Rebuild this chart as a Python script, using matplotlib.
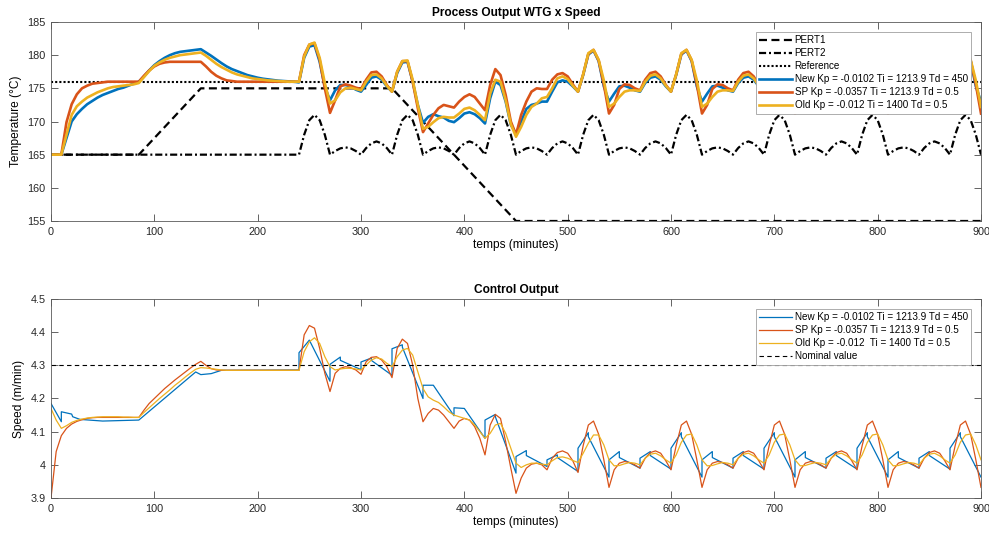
import numpy as np
import matplotlib
matplotlib.use('Agg')
import matplotlib.pyplot as plt

plt.rcParams['font.family'] = ['Liberation Sans', 'DejaVu Sans']

#Data
#--------------------------------
#time grid (minutes), one sample every 5 minutes
t = np.arange(0, 901, 5)

#disturbances and reference (top plot)
pert1_t = [0, 85, 145, 330, 450, 900]
pert1 = [165, 165, 175, 175, 155, 155]

pert2_t = np.r_[0, np.arange(240, 901, 5)]
pert2 = [165.0,
         165.0, 168.0, 170.2, 171.0, 170.2, 168.0, 165.0, 165.55, 165.95, 166.1, 165.95, 165.55, 165.0, 166.0, 166.7, 167.0, 166.7, 166.0,
         165.0, 168.0, 170.2, 171.0, 170.2, 168.0, 165.0, 165.55, 165.95, 166.1, 165.95, 165.55, 165.0, 166.0, 166.7, 167.0, 166.7, 166.0,
         165.0, 168.0, 170.2, 171.0, 170.2, 168.0, 165.0, 165.55, 165.95, 166.1, 165.95, 165.55, 165.0, 166.0, 166.7, 167.0, 166.7, 166.0,
         165.0, 168.0, 170.2, 171.0, 170.2, 168.0, 165.0, 165.55, 165.95, 166.1, 165.95, 165.55, 165.0, 166.0, 166.7, 167.0, 166.7, 166.0,
         165.0, 168.0, 170.2, 171.0, 170.2, 168.0, 165.0, 165.55, 165.95, 166.1, 165.95, 165.55, 165.0, 166.0, 166.7, 167.0, 166.7, 166.0,
         165.0, 168.0, 170.2, 171.0, 170.2, 168.0, 165.0, 165.55, 165.95, 166.1, 165.95, 165.55, 165.0, 166.0, 166.7, 167.0, 166.7, 166.0,
         165.0, 168.0, 170.2, 171.0, 170.2, 168.0, 165.0, 165.55, 165.95, 166.1, 165.95, 165.55, 165.0, 166.0, 166.7, 167.0, 166.7, 166.0,
         165.0, 168.0, 170.2, 171.0, 170.2, 168.0, 165.0]

ref_t = [0, 900]
ref = [176, 176]

#process output (temperature)
new_temp = [165.0, 165.0, 165.0, 167.5, 170.0, 171.1, 171.9, 172.6, 173.1, 173.6, 174.0, 174.3, 174.6, 174.9, 175.1, 175.4, 175.7, 176.0,
            176.8, 177.7, 178.5, 179.1, 179.6, 180.0, 180.3, 180.5, 180.6, 180.7, 180.8, 180.9, 180.4, 179.9, 179.35, 178.8, 178.3, 177.9,
            177.6, 177.3, 177.0, 176.8, 176.6, 176.45, 176.35, 176.25, 176.15, 176.1, 176.05, 176.0, 175.9, 179.6, 181.3, 181.5, 179.0, 175.2,
            173.2, 174.7, 175.5, 175.5, 175.3, 174.8, 174.5, 175.5, 176.6, 176.8, 176.3, 175.3, 174.5, 177.3, 178.9, 179.0, 176.0, 172.5,
            169.8, 170.7, 171.1, 170.8, 170.6, 170.1, 169.9, 170.5, 171.2, 171.4, 171.1, 170.5, 169.7, 173.5, 176.0, 175.5, 173.0, 169.5,
            168.2, 170.0, 171.9, 172.5, 172.7, 173.0, 173.0, 174.5, 175.9, 176.2, 176.0, 175.3, 174.5, 177.0, 180.1, 180.7, 179.1, 175.3,
            173.0, 174.2, 175.3, 175.4, 175.1, 174.7, 174.5, 175.8, 176.6, 176.8, 176.3, 175.3, 174.5, 177.0, 180.1, 180.7, 179.1, 175.3,
            173.0, 174.2, 175.3, 175.4, 175.1, 174.7, 174.5, 175.8, 176.6, 176.8, 176.3, 175.3, 174.5, 177.0, 180.1, 180.7, 179.1, 175.3,
            173.0, 174.2, 175.3, 175.4, 175.1, 174.7, 174.5, 175.8, 176.6, 176.8, 176.3, 175.3, 174.5, 177.0, 180.1, 180.7, 179.1, 175.3,
            173.0, 174.2, 175.3, 175.4, 175.1, 174.7, 174.5, 175.8, 176.6, 176.8, 176.3, 175.3, 174.5, 177.0, 180.1, 180.7, 179.1, 175.3,
            173.0]

sp_temp = [165.0, 165.0, 165.0, 169.9, 172.6, 174.1, 175.0, 175.4, 175.7, 175.8, 175.9, 176.0, 176.0, 176.0, 176.0, 176.0, 176.0, 176.0,
           176.9, 177.7, 178.3, 178.7, 178.9, 179.0, 179.0, 179.0, 179.0, 179.0, 179.0, 179.0, 178.3, 177.5, 176.9, 176.5, 176.2, 176.1,
           176.0, 176.0, 176.0, 176.0, 176.0, 176.0, 176.0, 176.0, 176.0, 176.0, 176.0, 176.0, 176.0, 180.0, 181.6, 181.8, 179.3, 175.0,
           171.3, 173.2, 175.3, 175.6, 175.4, 175.1, 174.9, 176.3, 177.4, 177.5, 176.8, 175.5, 174.5, 177.5, 179.1, 179.1, 176.0, 172.0,
           168.4, 169.7, 171.0, 172.0, 172.5, 172.3, 172.1, 173.0, 173.7, 174.1, 173.7, 172.7, 171.7, 175.5, 177.9, 177.0, 174.0, 170.0,
           168.0, 171.0, 173.0, 174.5, 175.0, 174.9, 174.9, 176.3, 177.1, 177.3, 176.8, 175.6, 174.5, 177.1, 180.2, 180.8, 179.2, 175.6,
           171.2, 172.5, 174.9, 175.6, 175.5, 175.0, 174.7, 176.3, 177.3, 177.5, 176.8, 175.5, 174.5, 177.1, 180.2, 180.8, 179.2, 175.6,
           171.2, 172.5, 174.9, 175.6, 175.5, 175.0, 174.7, 176.3, 177.3, 177.5, 176.8, 175.5, 174.5, 177.1, 180.2, 180.8, 179.2, 175.6,
           171.2, 172.5, 174.9, 175.6, 175.5, 175.0, 174.7, 176.3, 177.3, 177.5, 176.8, 175.5, 174.5, 177.1, 180.2, 180.8, 179.2, 175.6,
           171.2, 172.5, 174.9, 175.6, 175.5, 175.0, 174.7, 176.3, 177.3, 177.5, 176.8, 175.5, 174.5, 177.1, 180.2, 180.8, 179.2, 175.6,
           171.2]

old_temp = [165.0, 165.0, 165.0, 168.0, 171.0, 172.3, 173.0, 173.6, 174.0, 174.4, 174.7, 175.0, 175.2, 175.3, 175.4, 175.5, 175.6, 175.8,
            176.7, 177.6, 178.4, 178.9, 179.3, 179.6, 179.8, 180.0, 180.1, 180.2, 180.3, 180.4, 179.9, 179.3, 178.7, 178.2, 177.8, 177.4,
            177.1, 176.9, 176.7, 176.5, 176.4, 176.3, 176.2, 176.15, 176.1, 176.05, 176.0, 176.0, 176.0, 179.8, 181.6, 181.9, 179.6, 175.8,
            172.7, 173.2, 174.4, 175.0, 175.1, 174.9, 174.7, 176.0, 177.0, 177.1, 176.5, 175.4, 174.5, 177.5, 179.1, 179.2, 176.3, 172.5,
            168.9, 169.2, 169.9, 170.5, 170.7, 170.6, 170.6, 171.2, 171.9, 172.1, 171.7, 171.0, 170.2, 174.2, 176.3, 176.0, 173.2, 169.6,
            167.7, 169.2, 171.0, 172.2, 172.7, 173.5, 173.7, 175.0, 176.5, 176.8, 176.4, 175.4, 174.5, 177.1, 180.3, 180.8, 179.3, 176.2,
            172.2, 172.7, 173.7, 174.5, 174.7, 174.7, 174.6, 176.0, 176.9, 177.1, 176.5, 175.4, 174.5, 177.1, 180.3, 180.8, 179.3, 176.2,
            172.2, 172.7, 173.7, 174.5, 174.7, 174.7, 174.6, 176.0, 176.9, 177.1, 176.5, 175.4, 174.5, 177.1, 180.3, 180.8, 179.3, 176.2,
            172.2, 172.7, 173.7, 174.5, 174.7, 174.7, 174.6, 176.0, 176.9, 177.1, 176.5, 175.4, 174.5, 177.1, 180.3, 180.8, 179.3, 176.2,
            172.2, 172.7, 173.7, 174.5, 174.7, 174.7, 174.6, 176.0, 176.9, 177.1, 176.5, 175.4, 174.5, 177.1, 180.3, 180.8, 179.3, 176.2,
            172.2]

#control output (speed)
new_speed_t = [0, 10, 10, 20, 21, 28, 50, 85, 140, 145, 155, 165, 240,
               240, 250, 270, 270, 280, 280, 300, 300, 310, 310, 330, 330, 340, 340, 360, 360, 370,
               390, 390, 400, 420, 420, 430, 430, 450, 450, 460, 460, 480, 480, 490, 490, 510, 510, 520, 520, 540,
               540, 550, 550, 570, 570, 580, 580, 600, 600, 610, 610, 630,
               630, 640, 640, 660, 660, 670, 670, 690, 690, 700, 700, 720,
               720, 730, 730, 750, 750, 760, 760, 780, 780, 790, 790, 810,
               810, 820, 820, 840, 840, 850, 850, 870, 870, 880, 880, 900]
new_speed = [4.185, 4.13, 4.16, 4.153, 4.145, 4.137, 4.132, 4.135, 4.28, 4.272, 4.275, 4.285, 4.286,
             4.338, 4.376, 4.252, 4.303, 4.325, 4.315, 4.287, 4.31, 4.322, 4.315, 4.27, 4.35, 4.362, 4.355, 4.2, 4.24, 4.24,
             4.148, 4.172, 4.17, 4.08, 4.135, 4.152, 4.145, 3.975, 4.025, 4.043, 4.028, 3.995, 4.015, 4.03, 4.022, 3.98, 4.05, 4.097, 4.085, 3.963,
             4.015, 4.04, 4.022, 3.99, 4.02, 4.04, 4.028, 3.987, 4.05, 4.097, 4.085, 3.963,
             4.015, 4.04, 4.022, 3.99, 4.02, 4.04, 4.028, 3.987, 4.05, 4.097, 4.085, 3.963,
             4.015, 4.04, 4.022, 3.99, 4.02, 4.04, 4.028, 3.987, 4.05, 4.097, 4.085, 3.963,
             4.015, 4.04, 4.022, 3.99, 4.02, 4.04, 4.028, 3.987, 4.05, 4.097, 4.085, 3.963]

sp_speed = [3.900, 4.040, 4.088, 4.110, 4.123, 4.131, 4.136, 4.140, 4.142, 4.143, 4.143, 4.143, 4.143, 4.143, 4.143, 4.143, 4.143, 4.143,
            4.165, 4.185, 4.200, 4.215, 4.230, 4.243, 4.256, 4.268, 4.280, 4.292, 4.303, 4.312, 4.300, 4.290, 4.286, 4.285, 4.285, 4.285,
            4.285, 4.285, 4.285, 4.285, 4.285, 4.285, 4.285, 4.285, 4.285, 4.285, 4.285, 4.285, 4.285, 4.392, 4.420, 4.412, 4.351, 4.276,
            4.221, 4.276, 4.291, 4.296, 4.293, 4.286, 4.273, 4.311, 4.324, 4.326, 4.316, 4.296, 4.263, 4.351, 4.379, 4.366, 4.301, 4.200,
            4.130, 4.155, 4.170, 4.165, 4.150, 4.130, 4.110, 4.132, 4.140, 4.135, 4.115, 4.080, 4.030, 4.120, 4.152, 4.140, 4.070, 3.990,
            3.914, 3.960, 3.990, 4.002, 4.005, 4.000, 3.985, 4.020, 4.037, 4.042, 4.035, 4.012, 3.977, 4.058, 4.120, 4.132, 4.092, 4.015,
            3.932, 3.985, 4.005, 4.010, 4.007, 4.000, 3.990, 4.020, 4.037, 4.042, 4.035, 4.012, 3.985, 4.058, 4.120, 4.132, 4.092, 4.015,
            3.932, 3.985, 4.005, 4.010, 4.007, 4.000, 3.990, 4.020, 4.037, 4.042, 4.035, 4.012, 3.985, 4.058, 4.120, 4.132, 4.092, 4.015,
            3.932, 3.985, 4.005, 4.010, 4.007, 4.000, 3.990, 4.020, 4.037, 4.042, 4.035, 4.012, 3.985, 4.058, 4.120, 4.132, 4.092, 4.015,
            3.932, 3.985, 4.005, 4.010, 4.007, 4.000, 3.990, 4.020, 4.037, 4.042, 4.035, 4.012, 3.985, 4.058, 4.120, 4.132, 4.092, 4.015,
            3.932]

old_speed = [4.170, 4.135, 4.110, 4.118, 4.128, 4.134, 4.138, 4.141, 4.143, 4.144, 4.145, 4.145, 4.145, 4.145, 4.144, 4.144, 4.143, 4.143,
             4.158, 4.172, 4.186, 4.200, 4.213, 4.226, 4.240, 4.252, 4.265, 4.277, 4.288, 4.293, 4.292, 4.290, 4.288, 4.286, 4.285, 4.285,
             4.285, 4.285, 4.285, 4.285, 4.285, 4.285, 4.285, 4.285, 4.285, 4.285, 4.285, 4.285, 4.285, 4.341, 4.371, 4.383, 4.366, 4.326,
             4.296, 4.286, 4.289, 4.291, 4.291, 4.289, 4.286, 4.301, 4.316, 4.323, 4.319, 4.306, 4.296, 4.326, 4.346, 4.351, 4.331, 4.281,
             4.230, 4.205, 4.195, 4.188, 4.175, 4.160, 4.150, 4.145, 4.140, 4.135, 4.120, 4.100, 4.080, 4.095, 4.120, 4.125, 4.095, 4.050,
             4.005, 3.992, 4.000, 4.005, 4.005, 4.002, 4.000, 4.012, 4.022, 4.024, 4.020, 4.013, 4.007, 4.035, 4.065, 4.090, 4.090, 4.060,
             4.015, 3.997, 3.998, 4.003, 4.007, 4.005, 4.000, 4.020, 4.032, 4.035, 4.027, 4.015, 4.005, 4.030, 4.068, 4.090, 4.093, 4.060,
             4.015, 3.997, 3.998, 4.003, 4.007, 4.005, 4.000, 4.020, 4.032, 4.035, 4.027, 4.015, 4.005, 4.030, 4.068, 4.090, 4.093, 4.060,
             4.015, 3.997, 3.998, 4.003, 4.007, 4.005, 4.000, 4.020, 4.032, 4.035, 4.027, 4.015, 4.005, 4.030, 4.068, 4.090, 4.093, 4.060,
             4.015, 3.997, 3.998, 4.003, 4.007, 4.005, 4.000, 4.020, 4.032, 4.035, 4.027, 4.015, 4.005, 4.030, 4.068, 4.090, 4.093, 4.060,
             4.015]

nominal_t = [0, 900]
nominal = [4.3, 4.3]

lab_new = 'New Kp = -0.0102 Ti = 1213.9 Td = 450'
lab_sp = 'SP Kp = -0.0357 Ti = 1213.9 Td = 0.5'
lab_old_top = 'Old Kp = -0.012 Ti = 1400 Td = 0.5'
lab_old_bot = 'Old Kp = -0.012  Ti = 1400 Td = 0.5'

xticks = range(0, 901, 100)
yticks_top = range(155, 186, 5)
yticks_bot = [3.9, 4.0, 4.1, 4.2, 4.3, 4.4, 4.5]
yticklabels_bot = ['3.9', '4', '4.1', '4.2', '4.3', '4.4', '4.5']
#--------------------------------

#Figure settings
#--------------------------------
W = 989; H = 534
c_new = '#0072BD'; c_sp = '#D95319'; c_old = '#EDB120'
c_axis = '#262626'
size_ticks = 7.8; size_label = 8.6; size_title = 8.6; size_leg = 7.1

fig = plt.figure(figsize=(W/100, H/100), dpi=100)
ax1 = fig.add_axes([51/W, 1-221/H, 930/W, 199/H])
ax2 = fig.add_axes([51/W, 1-498/H, 930/W, 199/H])
#--------------------------------

#Top plot
#--------------------------------
ax1.plot(pert1_t, pert1, color='k', lw=1.6, linestyle=(0, (3.6, 2.0)), label='PERT1')
ax1.plot(pert2_t, pert2, color='k', lw=1.6, linestyle=(0, (3.2, 1.3, 0.9, 1.3)), label='PERT2')
ax1.plot(ref_t, ref, color='k', lw=1.5, linestyle=(0, (1, 1)), label='Reference')
ax1.plot(t, new_temp, color=c_new, lw=1.9, label=lab_new)
ax1.plot(t, sp_temp, color=c_sp, lw=1.9, label=lab_sp)
ax1.plot(t, old_temp, color=c_old, lw=1.9, label=lab_old_top)

ax1.set_xlim(0, 900); ax1.set_ylim(155, 185)
ax1.set_yticks(yticks_top)
ax1.set_title('Process Output WTG x Speed', fontsize=size_title, fontweight='bold', pad=4)
ax1.set_xlabel('temps (minutes)', fontsize=size_label, labelpad=2)
ax1.set_ylabel('Temperature (°C)', fontsize=size_label, labelpad=4)

#Bottom plot
#--------------------------------
ax2.plot(new_speed_t, new_speed, color=c_new, lw=0.9, label=lab_new)
ax2.plot(t, sp_speed, color=c_sp, lw=0.9, label=lab_sp)
ax2.plot(t, old_speed, color=c_old, lw=0.9, label=lab_old_bot)
ax2.plot(nominal_t, nominal, color='k', lw=0.8, linestyle=(0, (4, 3)), label='Nominal value')

ax2.set_xlim(0, 900); ax2.set_ylim(3.9, 4.5)
ax2.set_yticks(yticks_bot)
ax2.set_yticklabels(yticklabels_bot)
ax2.set_title('Control Output', fontsize=size_title, fontweight='bold', pad=4)
ax2.set_xlabel('temps (minutes)', fontsize=size_label, labelpad=2)
ax2.set_ylabel('Speed (m/min)', fontsize=size_label, labelpad=4)

#Axes style (MATLAB look)
for ax in [ax1, ax2]:
    ax.set_xticks(xticks)
    ax.tick_params(direction='in', top=True, right=True, length=5, width=0.5,
                   labelsize=size_ticks, colors=c_axis, pad=4)
    for s in ax.spines.values():
        s.set_color('#5a5a5a'); s.set_linewidth(0.6)
    leg = ax.legend(loc='upper right', fontsize=size_leg, handlelength=3.3, handletextpad=0.3,
                    labelspacing=0.3, borderpad=0.35, borderaxespad=1.0, fancybox=False,
                    framealpha=1, edgecolor='#a0a0a0')
    leg.get_frame().set_linewidth(0.6)

#save fig
fig.savefig('out.png', dpi=100)
#--------------------------------
